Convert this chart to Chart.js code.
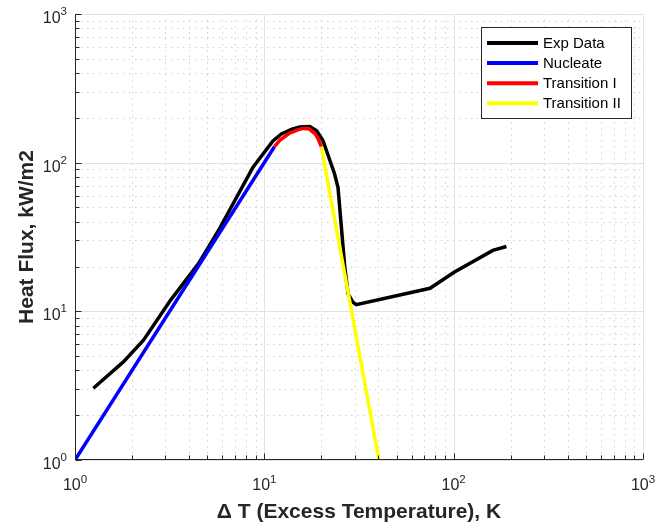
<!DOCTYPE html>
<html>
<head>
<meta charset="utf-8">
<script src="https://cdn.jsdelivr.net/npm/chart.js@4.4.1/dist/chart.umd.min.js"></script>
<style>
  html, body { margin: 0; padding: 0; background: #fff; }
</style>
</head>
<body>
<canvas id="myChart" width="657" height="529"></canvas>
<script>
// values (log-log)
const expT = [1.25, 1.8, 2.3, 3.2, 4.5, 5.8, 8.7, 11.1, 12.3, 14, 15.4, 17.4, 18.9, 20.4, 23.5, 24.5, 26.6, 27.7, 29.4, 30.6, 75, 101, 161, 190];
const expQ = [3.04, 4.57, 6.4, 11.9, 21, 36, 93, 140, 156, 168, 174, 175, 164, 141, 84, 68, 19.8, 13.1, 11.5, 11.1, 14.3, 18.4, 25.7, 27.3];
const nucT = [1, 11.3];
const nucQ = [1, 128];
const tr1T = [11.3, 12.1, 13.6, 15, 16, 17.2, 18.5, 19.2, 20];
const tr1Q = [128, 142, 158, 166, 170, 169, 157, 146, 128];
const tr2T = [20, 40.3];
const tr2Q = [128, 1];
const decades = [1, 10, 100, 1000];
const exponents = ['0', '1', '2', '3'];

const FONT = '"Liberation Sans", Arial, sans-serif';
const AXIS = '#262626';

const toPoints = (xs, ys) => xs.map((x, i) => ({ x: x, y: ys[i] }));

const logGrid = {
  id: 'logGrid',
  beforeDatasetsDraw(chart) {
    const { ctx, chartArea: a, scales: { x, y } } = chart;
    ctx.save();
    ctx.lineWidth = 1;
    decades.forEach(d => {
      for (let m = 1; m <= 9; m++) {
        const v = d * m;
        if (v > 1000) break;
        const major = m === 1;
        ctx.strokeStyle = major ? '#e2e2e2' : '#d2d2d2';
        ctx.setLineDash(major ? [] : [1.5, 4.5]);
        const px = Math.round(x.getPixelForValue(v)) + 0.5;
        const py = Math.round(y.getPixelForValue(v)) + 0.5;
        ctx.beginPath();
        ctx.moveTo(px, a.top);
        ctx.lineTo(px, a.bottom);
        ctx.moveTo(a.left, py);
        ctx.lineTo(a.right, py);
        ctx.stroke();
      }
    });
    ctx.restore();
  }
};

const logAxes = {
  id: 'logAxes',
  afterDatasetsDraw(chart) {
    const { ctx, chartArea: a, scales: { x, y } } = chart;
    ctx.save();
    ctx.strokeStyle = AXIS;
    ctx.lineWidth = 1;
    const left = Math.round(a.left) + 0.5;
    const bottom = Math.round(a.bottom) - 0.5;
    ctx.beginPath();
    ctx.moveTo(left, a.top);
    ctx.lineTo(left, bottom);
    ctx.lineTo(a.right, bottom);
    // inward ticks
    decades.forEach(d => {
      for (let m = 1; m <= 9; m++) {
        const v = d * m;
        if (v > 1000) break;
        const len = m === 1 ? 6 : 4;
        const px = Math.round(x.getPixelForValue(v)) + 0.5;
        const py = Math.round(y.getPixelForValue(v)) + 0.5;
        ctx.moveTo(px, bottom);
        ctx.lineTo(px, bottom - len);
        ctx.moveTo(left, py);
        ctx.lineTo(left + len, py);
      }
    });
    ctx.stroke();

    // tick labels 10^n
    ctx.fillStyle = AXIS;
    ctx.textBaseline = 'alphabetic';
    ctx.textAlign = 'left';
    decades.forEach((d, i) => {
      ctx.font = '16px ' + FONT;
      const w1 = ctx.measureText('10').width;
      ctx.font = '11.5px ' + FONT;
      const w2 = ctx.measureText(exponents[i]).width;

      const px = x.getPixelForValue(d);
      let sx = px - (w1 + w2) / 2;
      ctx.font = '16px ' + FONT;
      ctx.fillText('10', sx, a.bottom + 30);
      ctx.font = '11.5px ' + FONT;
      ctx.fillText(exponents[i], sx + w1, a.bottom + 23);

      const py = y.getPixelForValue(d);
      sx = a.left - 8 - (w1 + w2);
      ctx.font = '16px ' + FONT;
      ctx.fillText('10', sx, py + 9);
      ctx.font = '11.5px ' + FONT;
      ctx.fillText(exponents[i], sx + w1, py + 1);
    });
    ctx.restore();
  }
};

const boxLegend = {
  id: 'boxLegend',
  afterDraw(chart) {
    const ctx = chart.ctx;
    ctx.save();
    ctx.fillStyle = '#fff';
    ctx.fillRect(481, 27, 150, 91);
    ctx.strokeStyle = AXIS;
    ctx.lineWidth = 1;
    ctx.strokeRect(481.5, 27.5, 150, 91);
    ctx.font = '15px ' + FONT;
    ctx.textBaseline = 'middle';
    ctx.textAlign = 'left';
    chart.data.datasets.forEach((ds, i) => {
      const ry = 43 + i * 20.1;
      ctx.strokeStyle = ds.borderColor;
      ctx.lineWidth = 4;
      ctx.beginPath();
      ctx.moveTo(487, ry);
      ctx.lineTo(538, ry);
      ctx.stroke();
      ctx.fillStyle = '#000';
      ctx.fillText(ds.label, 543, ry + 1);
    });
    ctx.restore();
  }
};

const line = (label, pts, color, order) => ({
  label: label,
  data: pts,
  borderColor: color,
  backgroundColor: color,
  borderWidth: 3.5,
  pointRadius: 0,
  tension: 0,
  fill: false,
  clip: 0,
  order: order
});

const ctx = document.getElementById('myChart').getContext('2d');
const myChart = new Chart(ctx, {
  type: 'line',
  data: {
    datasets: [
      line('Exp Data', toPoints(expT, expQ), '#000000', 4),
      line('Nucleate', toPoints(nucT, nucQ), '#0000ff', 3),
      line('Transition I', toPoints(tr1T, tr1Q), '#ff0000', 2),
      line('Transition II', toPoints(tr2T, tr2Q), '#ffff00', 1)
    ]
  },
  options: {
    responsive: false,
    animation: false,
    devicePixelRatio: 1,
    layout: { autoPadding: false, padding: { top: 14, right: 14, left: 0, bottom: 0 } },
    plugins: { legend: { display: false }, tooltip: { enabled: false } },
    scales: {
      x: {
        type: 'logarithmic',
        min: 1,
        max: 1000,
        grid: { display: false },
        border: { display: false },
        ticks: { display: false },
        title: {
          display: true,
          text: 'Δ T (Excess Temperature), K',
          color: AXIS,
          font: { family: FONT, size: 21, weight: 'bold' },
          padding: { top: 0, bottom: 4 }
        },
        afterFit: s => { s.height = 69; }
      },
      y: {
        type: 'logarithmic',
        min: 1,
        max: 1000,
        grid: { display: false },
        border: { display: false },
        ticks: { display: false },
        title: {
          display: true,
          text: 'Heat Flux, kW/m2',
          color: AXIS,
          font: { family: FONT, size: 21, weight: 'bold' },
          padding: { top: 15, bottom: 0 }
        },
        afterFit: s => { s.width = 75; }
      }
    }
  },
  plugins: [logGrid, logAxes, boxLegend]
});
</script>
</body>
</html>
